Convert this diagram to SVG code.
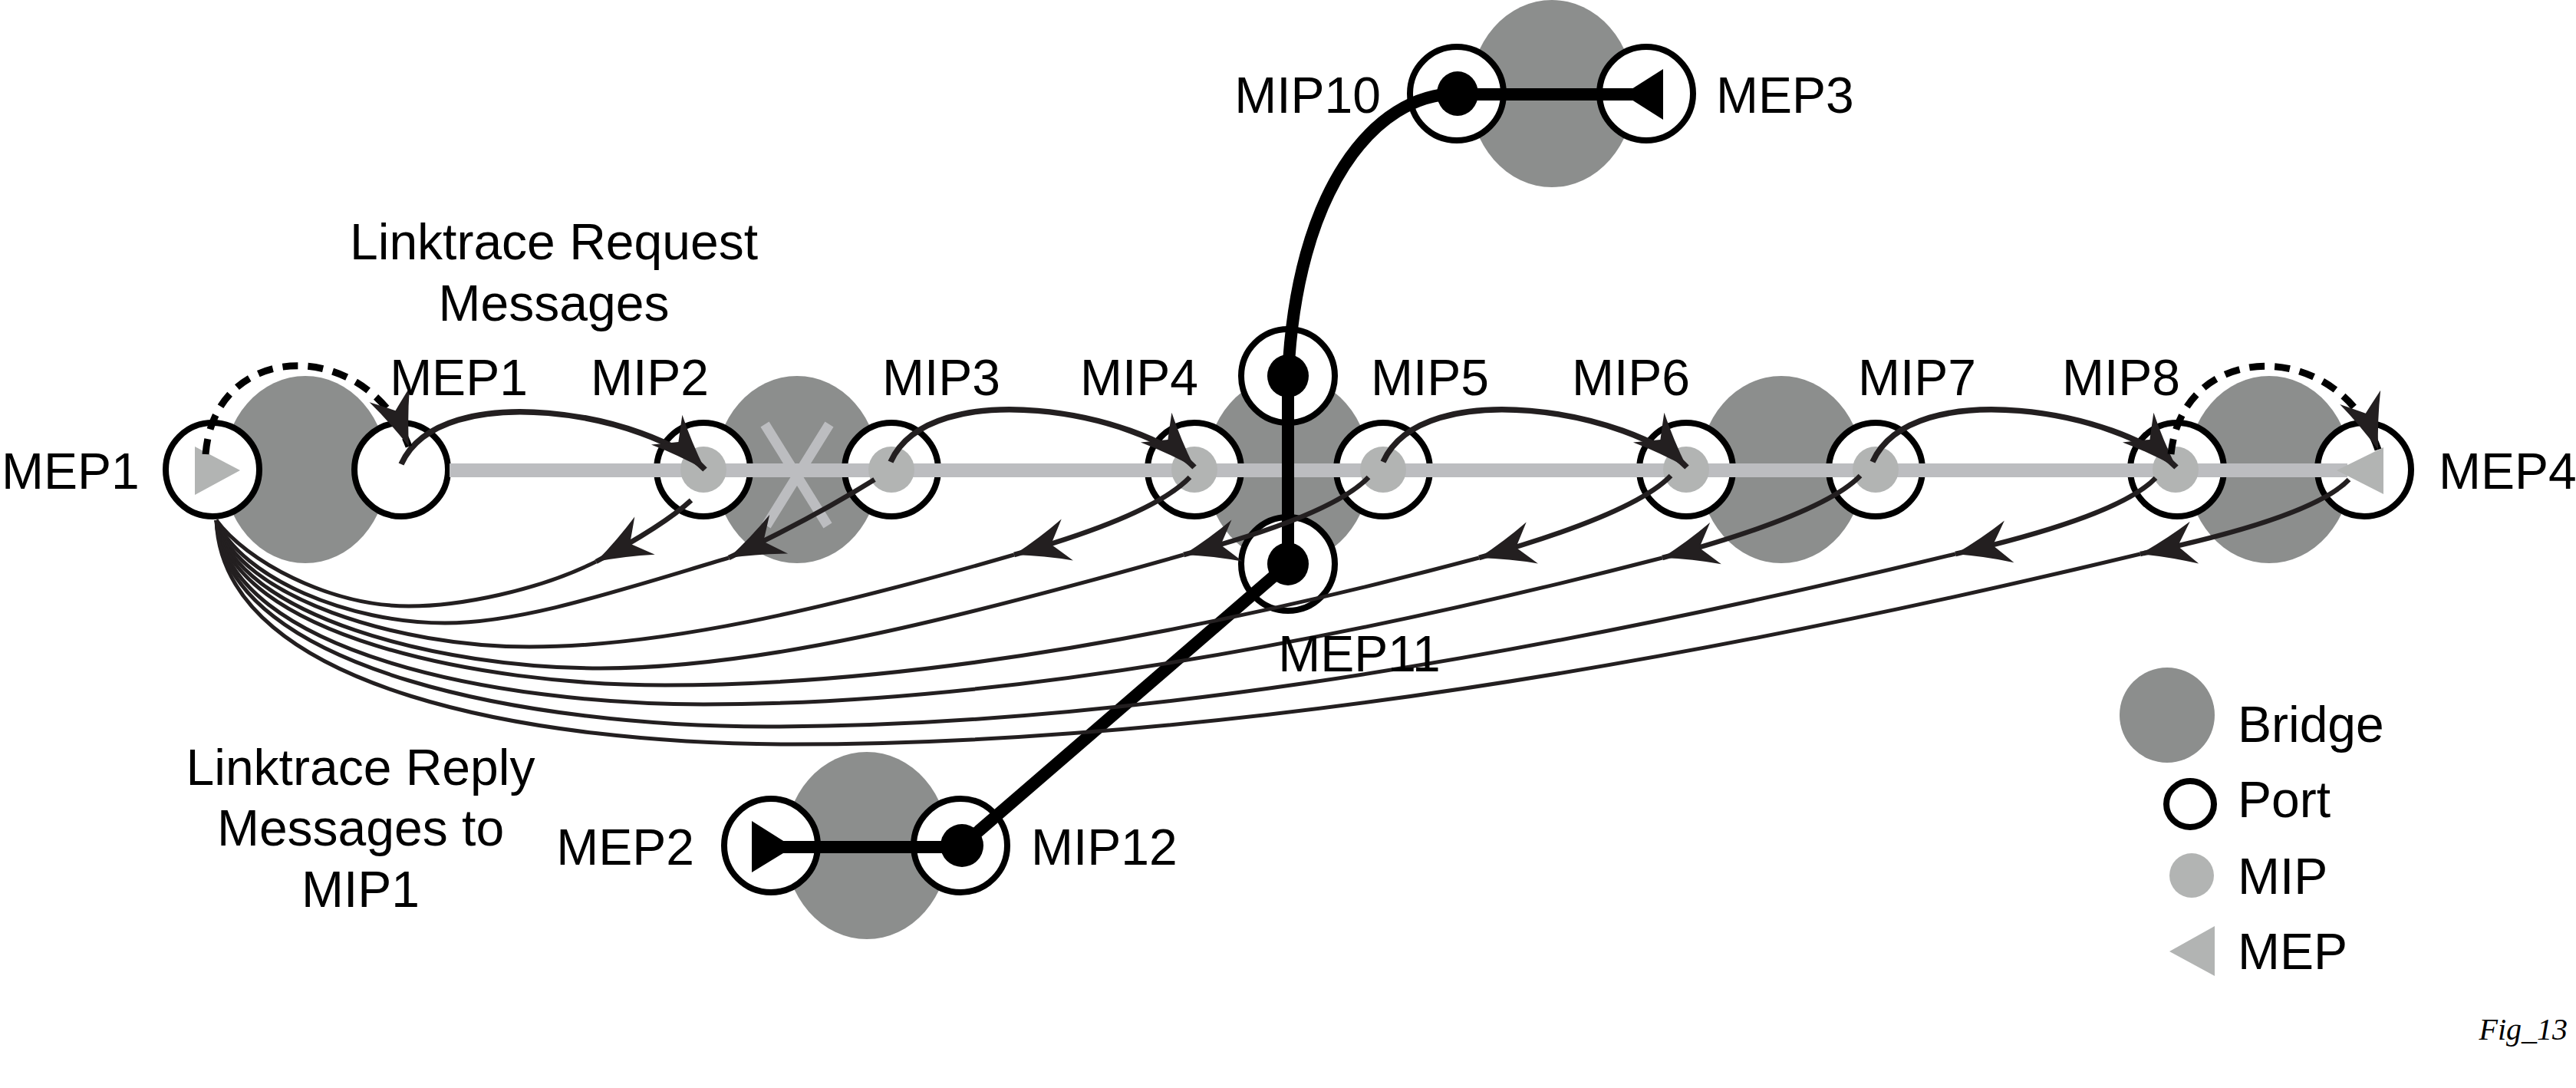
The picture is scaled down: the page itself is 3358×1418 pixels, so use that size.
<svg xmlns="http://www.w3.org/2000/svg" width="3358" height="1418" viewBox="0 0 3358 1418">
<defs>
<style>
.bridge{fill:#8c8e8d}
.port{fill:#fff;stroke:#000;stroke-width:8}
.mip{fill:#b2b4b3}
.mep{fill:#b2b4b3}
.blk{fill:#000}
.lbl{font-family:"Liberation Sans",Arial,sans-serif;font-size:66px;fill:#000}
.thick{fill:none;stroke:#000;stroke-width:16}
.req{fill:none;stroke:#231f20;stroke-width:7.5;marker-end:url(#ah)}
.dash{fill:none;stroke:#000;stroke-width:9;stroke-dasharray:20 13;marker-end:url(#ah)}
.rep1{fill:none;stroke:#231f20;stroke-width:6.5;marker-end:url(#ah)}
.rep2{fill:none;stroke:#231f20;stroke-width:5}
.xmark{stroke:#bcbdc0;stroke-width:13;fill:none}
</style>
<marker id="ah" markerUnits="userSpaceOnUse" markerWidth="84" markerHeight="64" viewBox="-76 -32 84 64" refX="0" refY="0" orient="auto">
<path d="M0,0 Q-38,-12 -72,-28 Q-58,-10 -50,0 Q-58,10 -72,28 Q-38,12 0,0 Z" fill="#231f20"/>
</marker>
</defs>
<rect width="3358" height="1418" fill="#fff"/>

<g id="bridges">
<g id="bridge1"><ellipse class="bridge" cx="398" cy="612" rx="107" ry="122"/></g>
<g id="bridge2"><ellipse class="bridge" cx="1039" cy="612" rx="107" ry="122"/>
<path class="xmark" d="M997,553 L1079,685 M1081,553 L999,685"/></g>
<g id="bridge3"><ellipse class="bridge" cx="1679" cy="612" rx="107" ry="122"/></g>
<g id="bridge4"><ellipse class="bridge" cx="2322" cy="612" rx="107" ry="122"/></g>
<g id="bridge5"><ellipse class="bridge" cx="2958" cy="612" rx="107" ry="122"/></g>
<g id="bridge6"><ellipse class="bridge" cx="1130" cy="1102" rx="107" ry="122"/></g>
<g id="bridge7"><ellipse class="bridge" cx="2023" cy="122" rx="107" ry="122"/></g>
</g>

<g id="ports">
<g id="port-mep1a"><circle class="port" cx="277" cy="612" r="61"/></g>
<g id="port-mep1b"><circle class="port" cx="523" cy="612" r="61"/></g>
<g id="port-mip2"><circle class="port" cx="917" cy="612" r="61"/></g>
<g id="port-mip3"><circle class="port" cx="1162" cy="612" r="61"/></g>
<g id="port-mip4"><circle class="port" cx="1557" cy="612" r="61"/></g>
<g id="port-mip5"><circle class="port" cx="1803" cy="612" r="61"/></g>
<g id="port-mip6"><circle class="port" cx="2198" cy="612" r="61"/></g>
<g id="port-mip7"><circle class="port" cx="2445" cy="612" r="61"/></g>
<g id="port-mip8"><circle class="port" cx="2838" cy="612" r="61"/></g>
<g id="port-mep4"><circle class="port" cx="3082" cy="612" r="61"/></g>
<g id="port-mip9"><circle class="port" cx="1679" cy="490" r="61"/></g>
<g id="port-mep11"><circle class="port" cx="1679" cy="735" r="61"/></g>
<g id="port-mep2"><circle class="port" cx="1005" cy="1102" r="61"/></g>
<g id="port-mip12"><circle class="port" cx="1252" cy="1102" r="61"/></g>
<g id="port-mip10"><circle class="port" cx="1899" cy="122" r="61"/></g>
<g id="port-mep3"><circle class="port" cx="2146" cy="122" r="61"/></g>
</g>

<g id="path-line">
<line x1="586" y1="613" x2="3060" y2="613" stroke="#bcbdc0" stroke-width="18"/>
</g>

<g id="points">
<circle class="mip" cx="917" cy="612" r="30"/>
<circle class="mip" cx="1162" cy="612" r="30"/>
<circle class="mip" cx="1557" cy="612" r="30"/>
<circle class="mip" cx="1803" cy="612" r="30"/>
<circle class="mip" cx="2198" cy="612" r="30"/>
<circle class="mip" cx="2445" cy="612" r="30"/>
<circle class="mip" cx="2836" cy="612" r="30"/>
<polygon class="mep" points="254,582 313,613 254,645"/>
<polygon class="mep" points="3046,613 3107,583 3107,644"/>
</g>

<g id="connectors">
<path class="thick" d="M1900,123 H2130"/>
<path class="thick" d="M1000,1104 H1254"/>
<path class="thick" d="M1900,122 C1790,122 1690,250 1679,490"/>
<path class="thick" d="M1679,490 V735"/>
<path class="thick" d="M1679,735 L1254,1102"/>
<ellipse class="blk" cx="1679" cy="490" rx="27" ry="28"/>
<ellipse class="blk" cx="1679" cy="735" rx="27" ry="28"/>
<ellipse class="blk" cx="1900" cy="122" rx="27" ry="29"/>
<ellipse class="blk" cx="1254" cy="1102" rx="28" ry="28"/>
<polygon class="blk" points="2168,90 2116,123 2168,156"/>
<polygon class="blk" points="980,1070 1034,1104 980,1137"/>

<path class="req" d="M523,605 c52,-115 327,-65 396,7"/>
<path class="req" d="M1161,602 c52,-115 327,-65 396,7"/>
<path class="req" d="M1803,602 c52,-115 327,-65 396,7"/>
<path class="req" d="M2441,602 c52,-115 327,-65 396,7"/>

<path class="dash" d="M268,592 C280,440 480,440 533,582"/>
<path class="dash" d="M2830,592 C2845,440 3050,440 3100,586"/>

<path class="rep1" d="M901,652 Q865,685 777,732"/>
<path class="rep2" d="M777,732 C700,770 600,790 533,790 C428,790 320,730 282,678"/>
<path class="rep1" d="M1140,625 Q1060,675 950,727"/>
<path class="rep2" d="M950,727 C802,771 680,812 580,812 C455,812 316,754 282,678"/>
<path class="rep1" d="M1551,622 Q1503,672 1322,723"/>
<path class="rep2" d="M1322,723 C1069,796 861,843 690,843 C519,843 311,779 282,678"/>
<path class="rep1" d="M1784,622 Q1736,672 1543,723"/>
<path class="rep2" d="M1543,723 C1239,809 988,871 783,871 C573,871 307,803 282,678"/>
<path class="rep1" d="M2178,620 Q2130,670 1928,727"/>
<path class="rep2" d="M1928,727 C1504,840 1153,893 867,893 C621,893 303,827 282,678"/>
<path class="rep1" d="M2425,620 Q2377,670 2167,727"/>
<path class="rep2" d="M2167,727 C1667,856 1255,918 917,918 C650,918 299,851 282,678"/>
<path class="rep1" d="M2810,623 Q2762,673 2549,722"/>
<path class="rep2" d="M2549,722 C1929,872 1418,947 1000,947 C698,947 294,876 282,678"/>
<path class="rep1" d="M3062,625 Q3014,675 2790,722"/>
<path class="rep2" d="M2790,722 C2087,891 1507,970 1033,970 C700,970 290,900 282,678"/>
</g>

<g id="labels" class="lbl">
<text x="2" y="637">MEP1</text>
<text x="598" y="515" text-anchor="middle">MEP1</text>
<text x="847" y="515" text-anchor="middle">MIP2</text>
<text x="1227" y="515" text-anchor="middle">MIP3</text>
<text x="1485" y="515" text-anchor="middle">MIP4</text>
<text x="1864" y="515" text-anchor="middle">MIP5</text>
<text x="2126" y="515" text-anchor="middle">MIP6</text>
<text x="2499" y="515" text-anchor="middle">MIP7</text>
<text x="2765" y="515" text-anchor="middle">MIP8</text>
<text x="3179" y="637">MEP4</text>
<text x="1772" y="875" text-anchor="middle">MEP11</text>
<text x="1800" y="147" text-anchor="end">MIP10</text>
<text x="2237" y="147">MEP3</text>
<text x="905" y="1127" text-anchor="end">MEP2</text>
<text x="1344" y="1127">MIP12</text>
<text x="722" y="338" text-anchor="middle">Linktrace Request</text>
<text x="722" y="418" text-anchor="middle">Messages</text>
<text x="470" y="1023" text-anchor="middle">Linktrace Reply</text>
<text x="470" y="1102" text-anchor="middle">Messages to</text>
<text x="470" y="1182" text-anchor="middle">MIP1</text>
</g>

<g id="legend">
<circle class="bridge" cx="2825" cy="932" r="62"/>
<ellipse class="port" cx="2855" cy="1048" rx="31" ry="30"/>
<circle class="mip" cx="2857" cy="1141" r="29"/>
<polygon class="mep" points="2828,1240 2887,1207 2887,1272"/>
<text class="lbl" x="2917" y="967">Bridge</text>
<text class="lbl" x="2917" y="1065">Port</text>
<text class="lbl" x="2917" y="1165">MIP</text>
<text class="lbl" x="2917" y="1263">MEP</text>
</g>

<text x="3347" y="1355" text-anchor="end" font-family="'Liberation Serif','Times New Roman',serif" font-style="italic" font-size="40">Fig_13</text>
</svg>
